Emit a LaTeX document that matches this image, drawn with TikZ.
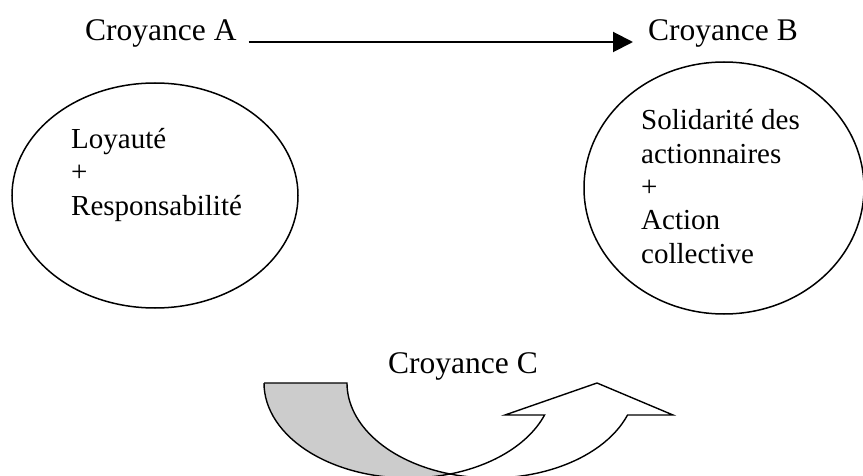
\documentclass[tikz,border=0pt]{standalone}
\usepackage{fontspec}
\setmainfont{Liberation Serif}
\usetikzlibrary{arrows.meta,shapes.geometric}
\begin{document}
\begin{tikzpicture}[x=1pt,y=1pt,
  txt/.style={font=\fontsize{29}{33.3}\selectfont, inner sep=0pt, align=left},
  title/.style={font=\fontsize{31.5}{36}\selectfont, inner sep=0pt},
  bubble/.style={draw, ellipse, line width=1.5pt, inner sep=0pt},
  band/.style={draw, line width=1.4pt, line join=miter},
  er/.style={x radius=144.5, y radius=95}]
\clip (0,0) rectangle (863,475);
% top labels and connector
\node[title, anchor=base west] (A) at (85,434) {Croyance A};
\node[title, anchor=base west] (B) at (648,434) {Croyance B};
\draw[line width=2pt, -{Triangle[length=20pt,width=20pt]}]
  ([xshift=12pt,yshift=-1pt]A.base east) -- ([xshift=-15pt,yshift=-1pt]B.base west);
% ellipses
\node[bubble, minimum width=286pt, minimum height=225pt] (L) at (155,279.5) {};
\node[bubble, minimum width=280pt, minimum height=252pt] (R) at (724,287) {};
\node[txt, anchor=base west] (Ltxt) at (71,260) {Loyauté\\+\\Responsabilité};
\node[txt, anchor=base west] (Rtxt) at (641,212) {Solidarité des\\actionnaires\\+\\Action\\collective};
% curved arrow
\node[title, anchor=base] (C) at (463,102) {Croyance C};
\coordinate (g1) at (264,92);
\coordinate (g2) at (347,92);
\coordinate (v) at (450,1.0);
\coordinate (h1) at (544.56,60);
\coordinate (h2) at (505,60);
\coordinate (tip) at (597,92);
\coordinate (h3) at (673,60);
\coordinate (h4) at (627.56,60);
\draw[band, fill=gray!40] (g1) -- (g2) arc[start angle=180, end angle=253.31, er]
  arc[start angle=286.69, end angle=180, er] -- cycle;
\draw[band, fill=white] (v) arc[start angle=-73.31, end angle=-19.68, er]
  -- (h2) -- (tip) -- (h3) -- (h4) arc[start angle=-19.68, end angle=-106.69, er] -- cycle;
\end{tikzpicture}
\end{document}
